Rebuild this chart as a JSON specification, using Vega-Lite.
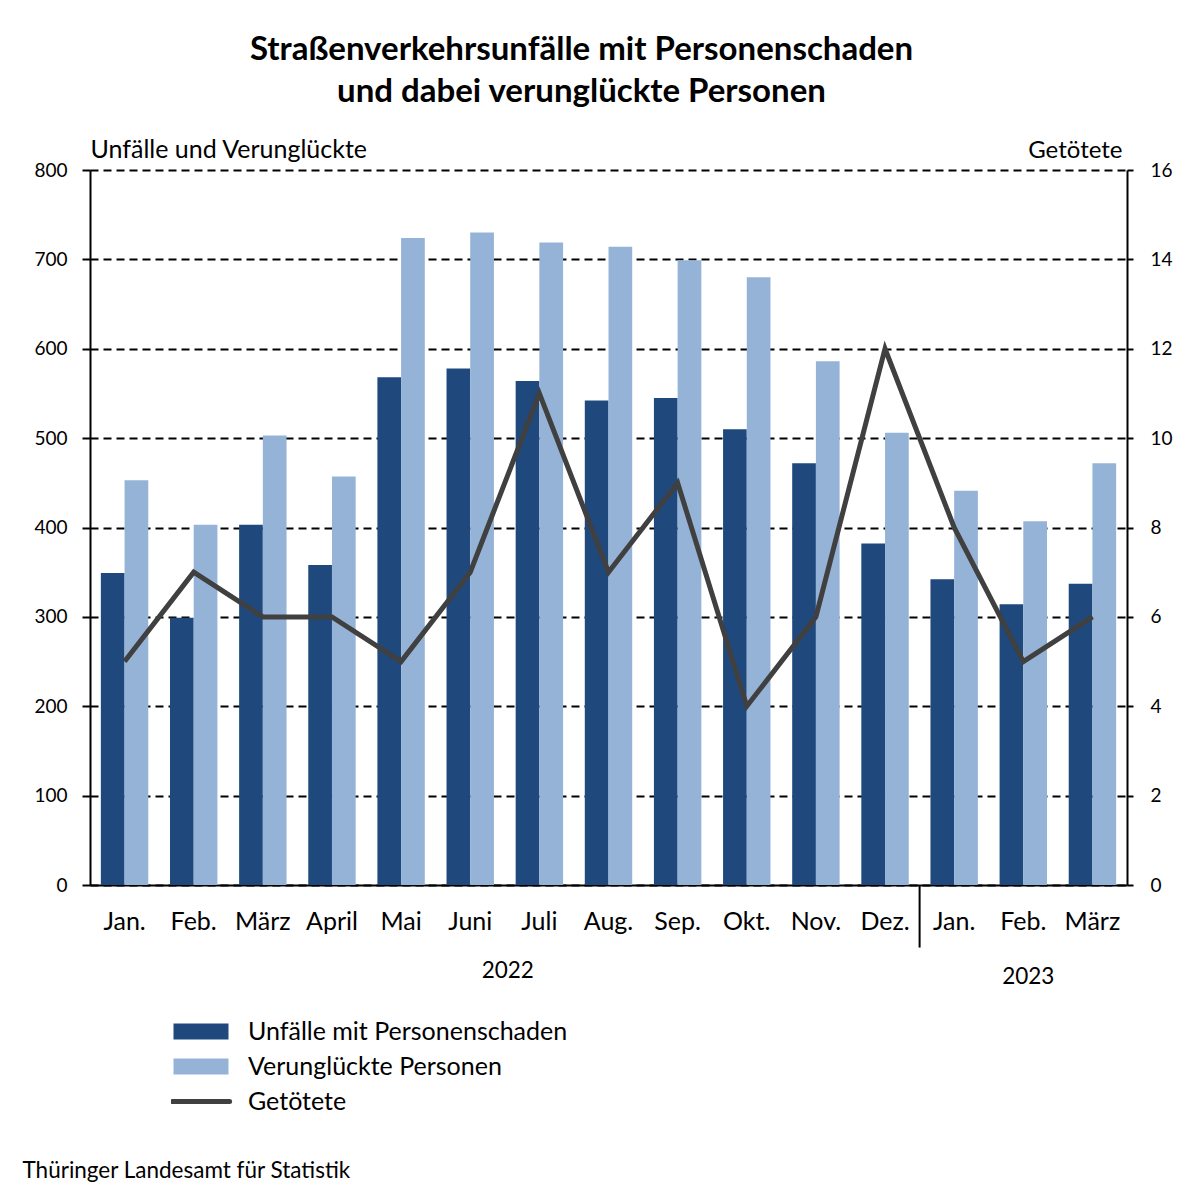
{
  "$schema": "https://vega.github.io/schema/vega-lite/v6.json",
  "width": 1037,
  "height": 715,
  "autosize": {"type": "none"},
  "padding": {"left": 90, "top": 170, "right": 51, "bottom": 310},
  "background": "white",
  "config": {
    "font": "Lato",
    "view": {"stroke": null},
    "axis": {"labelColor": "black", "titleColor": "black", "labelFont": "Lato", "titleFont": "Lato"},
    "legend": {"labelFont": "Lato"}
  },
  "title": {
    "text": ["Straßenverkehrsunfälle mit Personenschaden", "und dabei verunglückte Personen"],
    "fontSize": 33,
    "fontWeight": "bold",
    "lineHeight": 42,
    "anchor": "middle",
    "frame": "group",
    "dx": -27,
    "offset": 28,
    "color": "black",
    "font": "Lato"
  },
  "datasets": {
    "bars": [
      {"Monat": "Jan. 2022", "Serie": "Unfälle mit Personenschaden", "Wert": 349},
      {"Monat": "Jan. 2022", "Serie": "Verunglückte Personen", "Wert": 453},
      {"Monat": "Feb. 2022", "Serie": "Unfälle mit Personenschaden", "Wert": 299},
      {"Monat": "Feb. 2022", "Serie": "Verunglückte Personen", "Wert": 403},
      {"Monat": "März 2022", "Serie": "Unfälle mit Personenschaden", "Wert": 403},
      {"Monat": "März 2022", "Serie": "Verunglückte Personen", "Wert": 503},
      {"Monat": "April 2022", "Serie": "Unfälle mit Personenschaden", "Wert": 358},
      {"Monat": "April 2022", "Serie": "Verunglückte Personen", "Wert": 457},
      {"Monat": "Mai 2022", "Serie": "Unfälle mit Personenschaden", "Wert": 568},
      {"Monat": "Mai 2022", "Serie": "Verunglückte Personen", "Wert": 724},
      {"Monat": "Juni 2022", "Serie": "Unfälle mit Personenschaden", "Wert": 578},
      {"Monat": "Juni 2022", "Serie": "Verunglückte Personen", "Wert": 730},
      {"Monat": "Juli 2022", "Serie": "Unfälle mit Personenschaden", "Wert": 564},
      {"Monat": "Juli 2022", "Serie": "Verunglückte Personen", "Wert": 719},
      {"Monat": "Aug. 2022", "Serie": "Unfälle mit Personenschaden", "Wert": 542},
      {"Monat": "Aug. 2022", "Serie": "Verunglückte Personen", "Wert": 714},
      {"Monat": "Sep. 2022", "Serie": "Unfälle mit Personenschaden", "Wert": 545},
      {"Monat": "Sep. 2022", "Serie": "Verunglückte Personen", "Wert": 699},
      {"Monat": "Okt. 2022", "Serie": "Unfälle mit Personenschaden", "Wert": 510},
      {"Monat": "Okt. 2022", "Serie": "Verunglückte Personen", "Wert": 680},
      {"Monat": "Nov. 2022", "Serie": "Unfälle mit Personenschaden", "Wert": 472},
      {"Monat": "Nov. 2022", "Serie": "Verunglückte Personen", "Wert": 586},
      {"Monat": "Dez. 2022", "Serie": "Unfälle mit Personenschaden", "Wert": 382},
      {"Monat": "Dez. 2022", "Serie": "Verunglückte Personen", "Wert": 506},
      {"Monat": "Jan. 2023", "Serie": "Unfälle mit Personenschaden", "Wert": 342},
      {"Monat": "Jan. 2023", "Serie": "Verunglückte Personen", "Wert": 441},
      {"Monat": "Feb. 2023", "Serie": "Unfälle mit Personenschaden", "Wert": 314},
      {"Monat": "Feb. 2023", "Serie": "Verunglückte Personen", "Wert": 407},
      {"Monat": "März 2023", "Serie": "Unfälle mit Personenschaden", "Wert": 337},
      {"Monat": "März 2023", "Serie": "Verunglückte Personen", "Wert": 472}
    ],
    "line": [
      {"Monat": "Jan. 2022", "Getötete": 5},
      {"Monat": "Feb. 2022", "Getötete": 7},
      {"Monat": "März 2022", "Getötete": 6},
      {"Monat": "April 2022", "Getötete": 6},
      {"Monat": "Mai 2022", "Getötete": 5},
      {"Monat": "Juni 2022", "Getötete": 7},
      {"Monat": "Juli 2022", "Getötete": 11},
      {"Monat": "Aug. 2022", "Getötete": 7},
      {"Monat": "Sep. 2022", "Getötete": 9},
      {"Monat": "Okt. 2022", "Getötete": 4},
      {"Monat": "Nov. 2022", "Getötete": 6},
      {"Monat": "Dez. 2022", "Getötete": 12},
      {"Monat": "Jan. 2023", "Getötete": 8},
      {"Monat": "Feb. 2023", "Getötete": 5},
      {"Monat": "März 2023", "Getötete": 6}
    ],
    "jahr2022": [{"Monat": "Juli 2022", "Jahr": "2022"}],
    "jahr2023": [{"Monat": "Feb. 2023", "Jahr": "2023"}],
    "trenner": [{"Monat": "Jan. 2023"}]
  },
  "layer": [
    {
      "layer": [
        {
          "data": {"name": "bars"},
          "mark": {"type": "bar"},
          "encoding": {
            "x": {
              "field": "Monat",
              "type": "nominal",
              "sort": null,
              "scale": {
                "domain": ["Jan. 2022", "Feb. 2022", "März 2022", "April 2022", "Mai 2022", "Juni 2022", "Juli 2022", "Aug. 2022", "Sep. 2022", "Okt. 2022", "Nov. 2022", "Dez. 2022", "Jan. 2023", "Feb. 2023", "März 2023"],
                "paddingInner": 0,
                "paddingOuter": 0
              },
              "axis": {
                "labelExpr": "split(datum.label, ' ')[0]",
                "labelAngle": 0,
                "labelFontSize": 25,
                "labelPadding": 24,
                "ticks": false,
                "domainColor": "black",
                "domainWidth": 2,
                "title": "Thüringer Landesamt für Statistik",
                "titleFontSize": 22.5,
                "titleFontWeight": "normal",
                "titleX": -68,
                "titleY": 292,
                "titleAlign": "left",
                "titleBaseline": "alphabetic",
                "titleAnchor": "start"
              }
            },
            "xOffset": {
              "field": "Serie",
              "type": "nominal",
              "scale": {"domain": ["Unfälle mit Personenschaden", "Verunglückte Personen"], "paddingInner": 0, "paddingOuter": 0.458}
            },
            "y": {
              "field": "Wert",
              "type": "quantitative",
              "scale": {"domain": [0, 800], "nice": false},
              "axis": {
                "title": "Unfälle und Verunglückte",
                "titleAngle": 0,
                "titleX": 0,
                "titleY": -13,
                "titleAlign": "left",
                "titleBaseline": "alphabetic",
                "titleFontWeight": "normal",
                "titleFontSize": 25,
                "values": [0, 100, 200, 300, 400, 500, 600, 700, 800],
                "tickSize": 8,
                "tickColor": "black",
                "tickWidth": 2,
                "domainColor": "black",
                "domainWidth": 2,
                "gridColor": "black",
                "gridDash": [8, 5],
                "gridWidth": 2,
                "labelFontSize": 19,
                "labelPadding": 15
              }
            },
            "color": {
              "field": "Serie",
              "type": "nominal",
              "scale": {
                "domain": ["Unfälle mit Personenschaden", "Verunglückte Personen", "Getötete"],
                "range": ["#1F497D", "#95B3D7", "#404040"]
              },
              "legend": {
                "orient": "none",
                "legendX": 81,
                "legendY": 844,
                "title": null,
                "direction": "vertical",
                "labelFontSize": 25,
                "labelColor": "black",
                "labelLimit": 600,
                "labelOffset": 17,
                "symbolSize": 3025,
                "clipHeight": 35,
                "rowPadding": 0,
                "padding": 0,
                "encode": {
                  "symbols": {
                    "update": {
                      "shape": {"signal": "datum.value === 'Getötete' ? 'M-1.04,0H1.04' : 'M-1,-0.29H1V0.29H-1Z'"},
                      "fill": {"signal": "datum.value === 'Unfälle mit Personenschaden' ? '#1F497D' : datum.value === 'Verunglückte Personen' ? '#95B3D7' : 'transparent'"},
                      "stroke": {"signal": "datum.value === 'Getötete' ? '#404040' : 'transparent'"},
                      "strokeWidth": {"value": 5},
                      "strokeCap": {"value": "round"},
                      "opacity": {"value": 1}
                    }
                  }
                }
              }
            }
          }
        },
        {
          "data": {"name": "trenner"},
          "mark": {"type": "rule", "color": "black", "strokeWidth": 2},
          "encoding": {
            "x": {"field": "Monat", "type": "nominal", "bandPosition": 0},
            "y": {"datum": 0, "type": "quantitative", "scale": {"domain": [0, 800], "nice": false}},
            "y2": {"datum": -70}
          }
        },
        {
          "data": {"name": "jahr2022"},
          "mark": {"type": "text", "fontSize": 22.5, "dy": 86, "dx": 3, "baseline": "middle", "color": "black"},
          "encoding": {
            "x": {"field": "Monat", "type": "nominal", "bandPosition": 0},
            "y": {"datum": 0, "type": "quantitative", "scale": {"domain": [0, 800], "nice": false}},
            "text": {"field": "Jahr"}
          }
        },
        {
          "data": {"name": "jahr2023"},
          "mark": {"type": "text", "fontSize": 22.5, "dy": 92, "dx": 5, "baseline": "middle", "color": "black"},
          "encoding": {
            "x": {"field": "Monat", "type": "nominal", "bandPosition": 0.5},
            "y": {"datum": 0, "type": "quantitative", "scale": {"domain": [0, 800], "nice": false}},
            "text": {"field": "Jahr"}
          }
        }
      ]
    },
    {
      "data": {"name": "line"},
      "mark": {"type": "line", "color": "#404040", "strokeWidth": 5, "strokeJoin": "miter"},
      "encoding": {
        "x": {"field": "Monat", "type": "nominal"},
        "y": {
          "field": "Getötete",
          "type": "quantitative",
          "scale": {"domain": [0, 16], "nice": false},
          "axis": {
            "orient": "right",
            "title": "Getötete",
            "titleAngle": 0,
            "titleX": -5,
            "titleY": -13,
            "titleAlign": "right",
            "titleBaseline": "alphabetic",
            "titleFontWeight": "normal",
            "titleFontSize": 24,
            "values": [0, 2, 4, 6, 8, 10, 12, 14, 16],
            "grid": false,
            "tickSize": 6,
            "tickColor": "black",
            "tickWidth": 2,
            "domainColor": "black",
            "domainWidth": 2,
            "labelFontSize": 19,
            "labelPadding": 17
          }
        }
      }
    }
  ],
  "resolve": {"scale": {"y": "independent"}, "axis": {"y": "independent"}}
}
